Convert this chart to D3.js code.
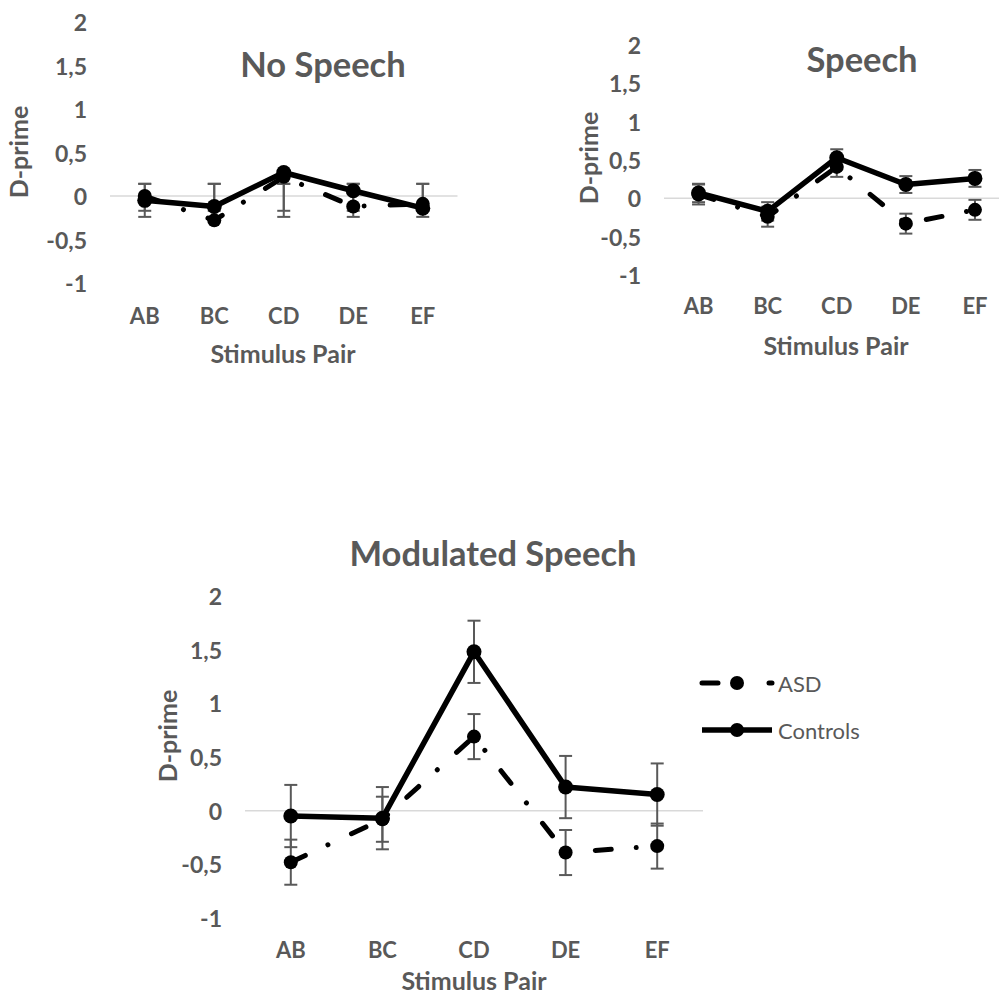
<!DOCTYPE html>
<html>
<head>
<meta charset="utf-8">
<script src="https://d3js.org/d3.v7.min.js"></script>
<style>
  body { margin: 0; background: #fff; }
  text { font-family: Lato, "Open Sans", sans-serif; fill: #595959; }
</style>
</head>
<body>
<svg id="chart" width="999" height="997"></svg>
<script>
// categories and ticks
const categories = ["AB", "BC", "CD", "DE", "EF"];
const yTicks = [-1, -0.5, 0, 0.5, 1, 1.5, 2];
const tickLabels = ["-1", "-0,5", "0", "0,5", "1", "1,5", "2"];
const seriesNames = ["ASD", "Controls"];

// No Speech
const noSpeechASD = [0.00, -0.28, 0.22, -0.12, -0.09];
const noSpeechCtrl = [-0.05, -0.12, 0.27, 0.06, -0.14];
const noSpeechASDHi = [0.14, 0.14, 0.14, 0.14, 0.14];
const noSpeechASDLo = [-0.17, -0.17, -0.17, -0.17, -0.17];
const noSpeechCtrlHi = [0.14, 0.14, 0.14, 0.14, 0.14];
const noSpeechCtrlLo = [-0.24, -0.24, -0.24, -0.24, -0.24];

// Speech
const speechASD = [0.05, -0.24, 0.41, -0.33, -0.15];
const speechCtrl = [0.07, -0.17, 0.53, 0.18, 0.26];
const speechASDHi = [0.18, -0.11, 0.54, -0.20, -0.02];
const speechASDLo = [-0.08, -0.37, 0.28, -0.46, -0.28];
const speechCtrlHi = [0.19, -0.05, 0.64, 0.29, 0.37];
const speechCtrlLo = [-0.05, -0.29, 0.42, 0.07, 0.15];

// Modulated Speech
const modASD = [-0.48, -0.08, 0.69, -0.39, -0.33];
const modCtrl = [-0.05, -0.07, 1.48, 0.22, 0.15];
const modASDHi = [-0.27, 0.13, 0.90, -0.18, -0.12];
const modASDLo = [-0.69, -0.29, 0.48, -0.60, -0.54];
const modCtrlHi = [0.24, 0.22, 1.77, 0.51, 0.44];
const modCtrlLo = [-0.34, -0.36, 1.19, -0.07, -0.14];

const charts = [
  { title: "No Speech", x0: 110, x1: 457.5, yBot: 283, yTop: 22,
    titleX: 323, titleY: 63, catY: 315, axX: 283, axY: 353, dpX: 18, dpY: 152,
    asd: noSpeechASD, ctrl: noSpeechCtrl,
    asdHi: noSpeechASDHi, asdLo: noSpeechASDLo, ctrlHi: noSpeechCtrlHi, ctrlLo: noSpeechCtrlLo },
  { title: "Speech", x0: 664, x1: 1009.5, yBot: 275, yTop: 45,
    titleX: 862, titleY: 58, catY: 305, axX: 836, axY: 345, dpX: 588, dpY: 158,
    asd: speechASD, ctrl: speechCtrl,
    asdHi: speechASDHi, asdLo: speechASDLo, ctrlHi: speechCtrlHi, ctrlLo: speechCtrlLo },
  { title: "Modulated Speech", x0: 245, x1: 703, yBot: 918, yTop: 596,
    titleX: 493, titleY: 552, catY: 949, axX: 474, axY: 980, dpX: 167, dpY: 736,
    asd: modASD, ctrl: modCtrl,
    asdHi: modASDHi, asdLo: modASDLo, ctrlHi: modCtrlHi, ctrlLo: modCtrlLo,
    legend: { x0: 702, x1: 772, y: [683, 730] } }
];

const svg = d3.select("svg#chart");
const asdDash = "16,25,0.01,26";

charts.forEach(c => {
  const g = svg.append("g");
  const x = d3.scaleBand().domain(categories).range([c.x0, c.x1]);
  const y = d3.scaleLinear().domain([-1, 2]).range([c.yBot, c.yTop]);
  const cx = d => x(d) + x.bandwidth() / 2;

  // title
  g.append("text").attr("x", c.titleX).attr("y", c.titleY)
    .attr("text-anchor", "middle").attr("dominant-baseline", "central")
    .attr("font-size", 34.5).attr("font-weight", "bold").text(c.title);

  // y tick labels
  g.selectAll("text.ytick").data(yTicks).join("text")
    .attr("class", "ytick")
    .attr("x", c.x0 - 23).attr("y", d => y(d))
    .attr("text-anchor", "end").attr("dominant-baseline", "central")
    .attr("font-size", 23).attr("font-weight", "bold")
    .text((d, i) => tickLabels[i]);

  // zero line
  g.append("line").attr("x1", c.x0).attr("x2", c.x1)
    .attr("y1", y(0)).attr("y2", y(0))
    .attr("stroke", "#d9d9d9").attr("stroke-width", 1.5);

  // category labels
  g.selectAll("text.cat").data(categories).join("text")
    .attr("class", "cat")
    .attr("x", d => cx(d)).attr("y", c.catY)
    .attr("text-anchor", "middle").attr("dominant-baseline", "central")
    .attr("font-size", 22).attr("font-weight", "bold").text(d => d);

  // axis titles
  g.append("text").attr("x", c.axX).attr("y", c.axY)
    .attr("text-anchor", "middle").attr("dominant-baseline", "central")
    .attr("font-size", 25).attr("font-weight", "bold").text("Stimulus Pair");
  g.append("text")
    .attr("transform", `translate(${c.dpX},${c.dpY}) rotate(-90)`)
    .attr("text-anchor", "middle").attr("dominant-baseline", "central")
    .attr("font-size", 25).attr("font-weight", "bold").text("D-prime");

  // error bars
  const bars = [];
  categories.forEach((k, i) => {
    bars.push({ k, hi: c.asdHi[i], lo: c.asdLo[i] });
    bars.push({ k, hi: c.ctrlHi[i], lo: c.ctrlLo[i] });
  });
  const eb = g.append("g").attr("stroke", "#595959").attr("stroke-width", 2);
  eb.selectAll("line.v").data(bars).join("line").attr("class", "v")
    .attr("x1", d => cx(d.k)).attr("x2", d => cx(d.k))
    .attr("y1", d => y(d.hi)).attr("y2", d => y(d.lo));
  eb.selectAll("line.t").data(bars).join("line").attr("class", "t")
    .attr("x1", d => cx(d.k) - 6.5).attr("x2", d => cx(d.k) + 6.5)
    .attr("y1", d => y(d.hi)).attr("y2", d => y(d.hi));
  eb.selectAll("line.b").data(bars).join("line").attr("class", "b")
    .attr("x1", d => cx(d.k) - 6.5).attr("x2", d => cx(d.k) + 6.5)
    .attr("y1", d => y(d.lo)).attr("y2", d => y(d.lo));

  const line = d3.line().x((d, i) => cx(categories[i])).y(d => y(d));

  // ASD
  g.append("path").datum(c.asd).attr("d", line)
    .attr("fill", "none").attr("stroke", "#000").attr("stroke-width", 5)
    .attr("stroke-linecap", "round").attr("stroke-dasharray", asdDash);
  g.selectAll("circle.asd").data(c.asd).join("circle").attr("class", "asd")
    .attr("cx", (d, i) => cx(categories[i])).attr("cy", d => y(d))
    .attr("r", 7).attr("fill", "#000");

  // Controls
  g.append("path").datum(c.ctrl).attr("d", line)
    .attr("fill", "none").attr("stroke", "#000").attr("stroke-width", 5.5)
    .attr("stroke-linejoin", "round");
  g.selectAll("circle.ctrl").data(c.ctrl).join("circle").attr("class", "ctrl")
    .attr("cx", (d, i) => cx(categories[i])).attr("cy", d => y(d))
    .attr("r", 7.5).attr("fill", "#000");

  // legend
  if (c.legend) {
    const L = c.legend;
    seriesNames.forEach((name, i) => {
      const ly = L.y[i];
      const lg = g.append("g");
      lg.append("line").attr("x1", L.x0).attr("x2", L.x1)
        .attr("y1", ly).attr("y2", ly)
        .attr("stroke", "#000").attr("stroke-width", i === 0 ? 5 : 5.5)
        .attr("stroke-linecap", i === 0 ? "round" : "butt")
        .attr("stroke-dasharray", i === 0 ? "16,21,0.01,30" : null);
      lg.append("circle").attr("cx", (L.x0 + L.x1) / 2).attr("cy", ly)
        .attr("r", 7).attr("fill", "#000");
      lg.append("text").attr("x", L.x1 + 6).attr("y", ly)
        .attr("dominant-baseline", "central")
        .attr("font-size", 22).text(name);
    });
  }
});
</script>
</body>
</html>
